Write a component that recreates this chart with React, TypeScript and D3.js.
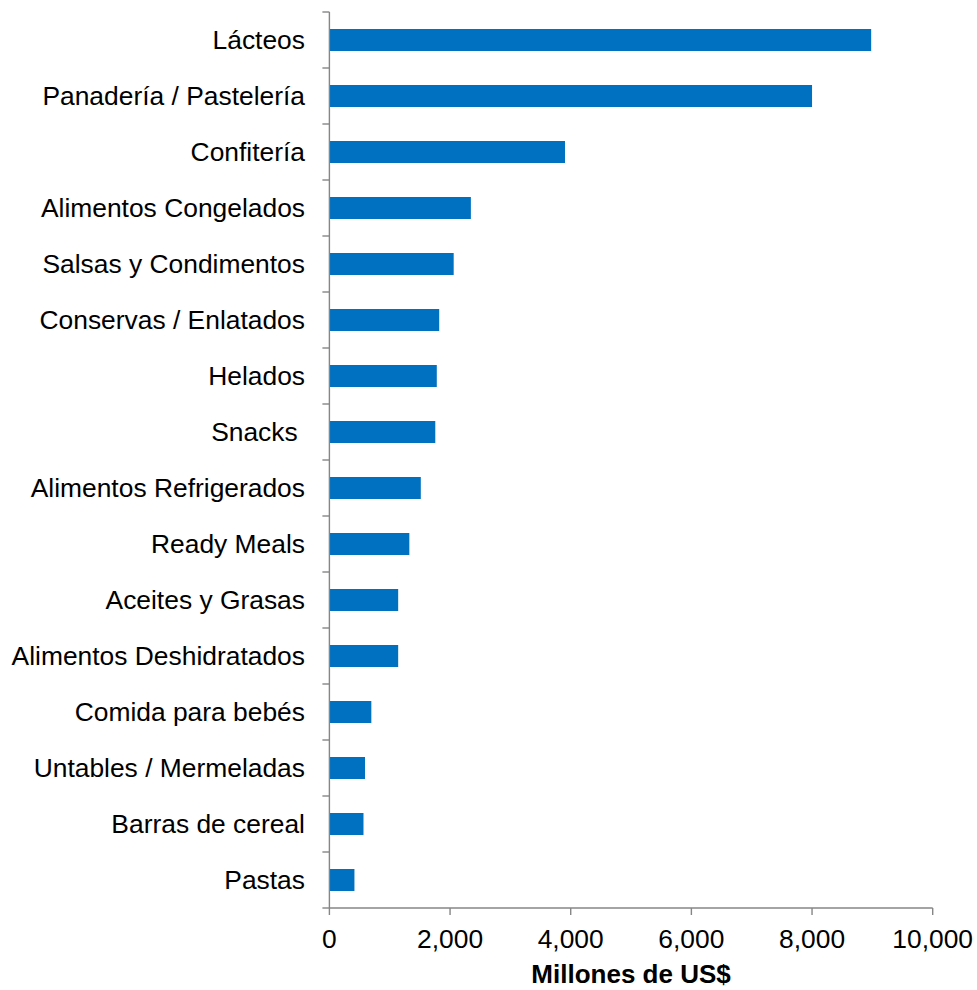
import React from "react";
import * as d3 from "d3";

const categories = [
  "Lácteos",
  "Panadería / Pastelería",
  "Confitería",
  "Alimentos Congelados",
  "Salsas y Condimentos",
  "Conservas / Enlatados",
  "Helados",
  "Snacks ",
  "Alimentos Refrigerados",
  "Ready Meals",
  "Aceites y Grasas",
  "Alimentos Deshidratados",
  "Comida para bebés",
  "Untables / Mermeladas",
  "Barras de cereal",
  "Pastas",
];
const values = [8980, 8000, 3905, 2345, 2060, 1820, 1780, 1755, 1515, 1325, 1140, 1140, 695, 590, 565, 415];
const xTicks = [0, 2000, 4000, 6000, 8000, 10000];
const xTitle = "Millones de US$";

const W = 977;
const H = 990;
const left = 329.4;
const right = 932.7;
const top = 12;
const bottom = 908;
const font = "'Liberation Sans', Arial, Helvetica, sans-serif";
const axisColor = "#868686";
const barColor = "#0070C0";
const fs = 26.4;

export default function App() {
  const x = d3.scaleLinear().domain([0, 10000]).range([left, right]);
  const pIn = 34 / 56;
  const y = d3
    .scaleBand<string>()
    .domain(categories)
    .range([top, bottom])
    .paddingInner(pIn)
    .paddingOuter(pIn / 2);
  const step = y.step();
  const boundaries = d3.range(categories.length + 1).map((i) => top + i * step);
  const fmt = d3.format(",");

  return (
    <svg
      width={W}
      height={H}
      style={{ position: "absolute", left: 0, top: 0, background: "#fff" }}
      fontFamily={font}
    >
      <rect x={0} y={0} width={W} height={H} fill="#fff" />
      {categories.map((c, i) => (
        <rect
          key={c}
          x={x(0)}
          y={y(c)}
          width={x(values[i]) - x(0)}
          height={y.bandwidth()}
          fill={barColor}
        />
      ))}
      {/* y axis */}
      <line x1={left} x2={left} y1={top} y2={bottom} stroke={axisColor} strokeWidth={1.4} />
      {boundaries.map((b, i) => (
        <line key={"yt" + i} x1={left - 7} x2={left} y1={b} y2={b} stroke={axisColor} strokeWidth={1.4} />
      ))}
      {categories.map((c) => (
        <text
          key={"yl" + c}
          x={305}
          y={(y(c) as number) + y.bandwidth() / 2}
          dy="0.33em"
          textAnchor="end"
          fontSize={fs}
          fill="#000"
          style={{ whiteSpace: "pre" }}
        >
          {c}
        </text>
      ))}
      {/* x axis */}
      <line x1={left} x2={right} y1={bottom} y2={bottom} stroke={axisColor} strokeWidth={1.4} />
      {xTicks.map((t) => (
        <g key={"xt" + t}>
          <line x1={x(t)} x2={x(t)} y1={bottom} y2={bottom + 7} stroke={axisColor} strokeWidth={1.4} />
          <text x={x(t)} y={948} textAnchor="middle" fontSize={fs} fill="#000">
            {fmt(t)}
          </text>
        </g>
      ))}
      <text
        x={(left + right) / 2}
        y={983}
        textAnchor="middle"
        fontSize={26}
        fontWeight="bold"
        fill="#000"
      >
        {xTitle}
      </text>
    </svg>
  );
}
